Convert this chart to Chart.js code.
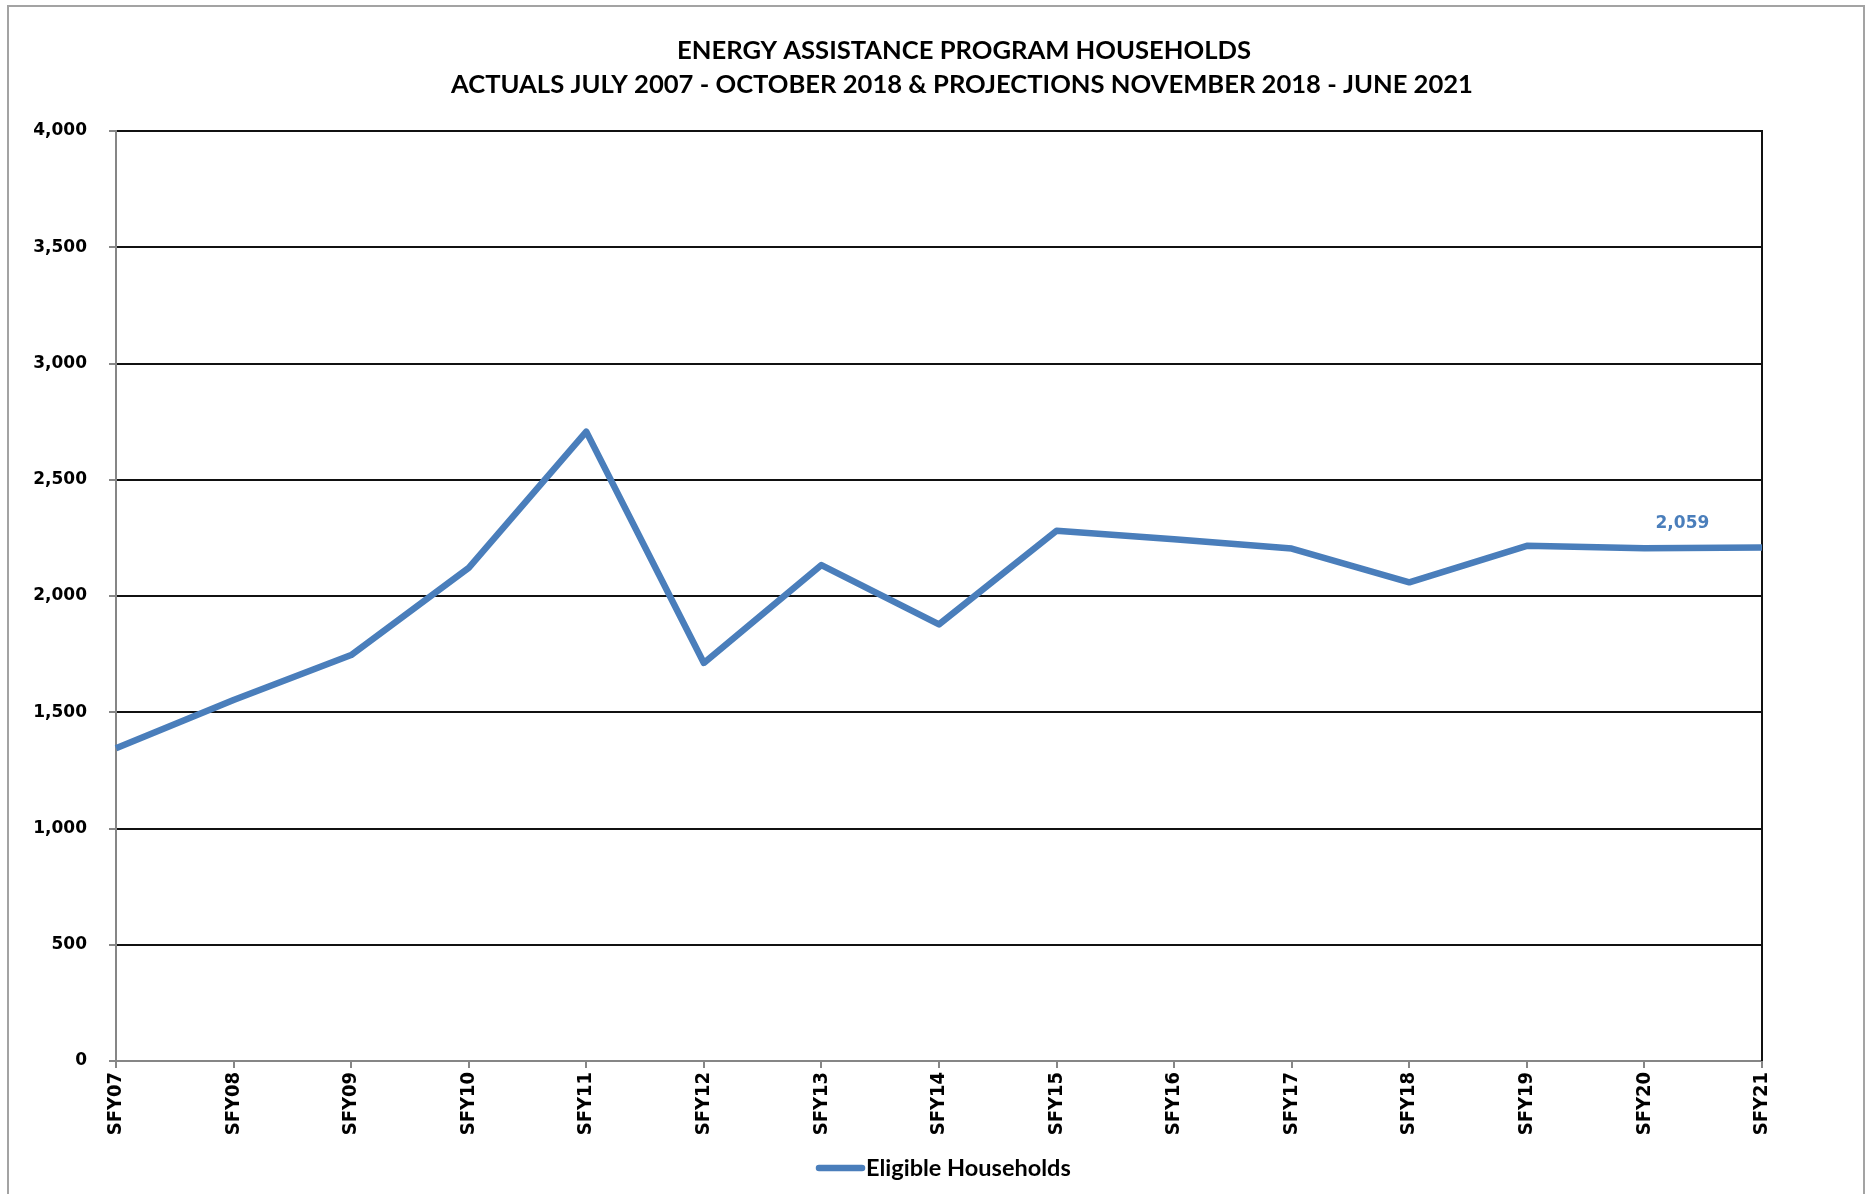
<!DOCTYPE html>
<html>
<head>
<meta charset="utf-8">
<title>Energy Assistance Program Households</title>
<script src="https://cdn.jsdelivr.net/npm/chart.js@4.4.1/dist/chart.umd.min.js"></script>
<style>
  html, body { margin: 0; padding: 0; background: #fff; overflow: hidden; }
  #wrap { position: relative; width: 1874px; height: 1194px; }
  #frame {
    position: absolute; left: 7px; top: 5px; width: 1858px; height: 1200px;
    border: 2px solid #a3a3a3; box-sizing: border-box; pointer-events: none;
  }
  canvas { position: absolute; left: 0; top: 0; }
</style>
</head>
<body>
<div id="wrap">
  <canvas id="chart" width="1874" height="1194"></canvas>
  <div id="frame"></div>
</div>
<script>
  // Fiscal years on the category axis
  const years = ['SFY07', 'SFY08', 'SFY09', 'SFY10', 'SFY11', 'SFY12', 'SFY13', 'SFY14',
                 'SFY15', 'SFY16', 'SFY17', 'SFY18', 'SFY19', 'SFY20', 'SFY21'];

  // Eligible households per year (actuals through SFY18, then projections)
  const households = [1345, 1553, 1746, 2121, 2707, 1712, 2133, 1878,
                      2281, 2244, 2204, 2059, 2216, 2205, 2209];

  const titleLines = [
    'ENERGY ASSISTANCE PROGRAM HOUSEHOLDS',
    'ACTUALS JULY 2007 - OCTOBER 2018 & PROJECTIONS NOVEMBER 2018 - JUNE 2021'
  ];

  const yMin = 0;
  const yMax = 4000;
  const yStep = 500;

  const BLUE = '#4A7EBB';
  const AXIS_GREY = '#868686';
  const LINE_W = 6.5;
  const LABEL_FONT = 'DejaVu Sans';
  const NARROW_FONT = '"Liberation Sans Narrow", "DejaVu Sans Condensed", sans-serif';

  const fmt = (v) => Number(v).toLocaleString('en-US');

  // Value callout: shows the SFY18 actual, placed over the SFY20 projection
  const calloutSource = years.indexOf('SFY18');
  const calloutAnchor = years.indexOf('SFY20');

  const calloutPlugin = {
    id: 'callout',
    afterDatasetsDraw(chart) {
      const pt = chart.getDatasetMeta(0).data[calloutAnchor];
      if (!pt) return;
      const ctx = chart.ctx;
      ctx.save();
      ctx.font = 'bold 17px ' + LABEL_FONT;
      ctx.fillStyle = BLUE;
      ctx.textAlign = 'center';
      ctx.textBaseline = 'middle';
      ctx.fillText(fmt(households[calloutSource]), pt.x + 38, pt.y - 25);
      ctx.restore();
    }
  };

  // Black frame on the right edge of the plot area
  const plotFrame = {
    id: 'plotFrame',
    beforeDatasetsDraw(chart) {
      const a = chart.chartArea;
      const ctx = chart.ctx;
      ctx.save();
      ctx.strokeStyle = '#111';
      ctx.lineWidth = 2;
      ctx.beginPath();
      ctx.moveTo(a.right, a.top - 1);
      ctx.lineTo(a.right, a.bottom);
      ctx.stroke();
      ctx.restore();
    }
  };

  // Title and legend sit a little right of the plot centre, so draw them by hand
  const headerFooter = {
    id: 'headerFooter',
    afterDraw(chart) {
      const ctx = chart.ctx;
      ctx.save();
      ctx.fillStyle = '#000';
      ctx.textAlign = 'center';
      ctx.textBaseline = 'middle';
      ctx.font = 'bold 25.6px Lato';
      ctx.fillText(titleLines[0], 964, 51);
      ctx.fillText(titleLines[1], 962, 85);

      // legend entry
      const ds = chart.data.datasets[0];
      ctx.strokeStyle = ds.borderColor;
      ctx.lineWidth = LINE_W;
      ctx.lineCap = 'round';
      ctx.beginPath();
      ctx.moveTo(819, 1168);
      ctx.lineTo(862, 1168);
      ctx.stroke();
      ctx.textAlign = 'left';
      ctx.font = 'bold 23.5px Lato';
      ctx.fillText(ds.label, 866, 1168);
      ctx.restore();
    }
  };

  new Chart(document.getElementById('chart'), {
    type: 'line',
    data: {
      labels: years,
      datasets: [{
        label: 'Eligible Households',
        data: households,
        borderColor: BLUE,
        backgroundColor: BLUE,
        borderWidth: LINE_W,
        pointRadius: 0,
        pointHoverRadius: 0,
        tension: 0,
        borderJoinStyle: 'round'
      }]
    },
    options: {
      responsive: false,
      animation: false,
      layout: { padding: { left: 20, right: 112, top: 131, bottom: 46 } },
      plugins: {
        title: { display: false },
        legend: { display: false },
        tooltip: { enabled: false }
      },
      scales: {
        x: {
          offset: false,
          afterFit: (s) => { s.height = 87; },
          grid: {
            drawOnChartArea: false,
            color: AXIS_GREY,
            tickLength: 7,
            lineWidth: 2
          },
          border: { color: AXIS_GREY, width: 2 },
          ticks: {
            color: '#000',
            minRotation: 90,
            maxRotation: 90,
            padding: 4,
            font: { family: NARROW_FONT, weight: 'bold', size: 20 }
          }
        },
        y: {
          min: yMin,
          max: yMax,
          afterFit: (s) => { s.width = 96; },
          grid: {
            color: '#111',
            tickColor: AXIS_GREY,
            tickLength: 7,
            lineWidth: 2
          },
          border: { color: AXIS_GREY, width: 2 },
          ticks: {
            stepSize: yStep,
            color: '#000',
            padding: 22,
            font: { family: LABEL_FONT, weight: 'bold', size: 17 },
            callback: (v) => fmt(v)
          }
        }
      }
    },
    plugins: [calloutPlugin, plotFrame, headerFooter]
  });
</script>
</body>
</html>
